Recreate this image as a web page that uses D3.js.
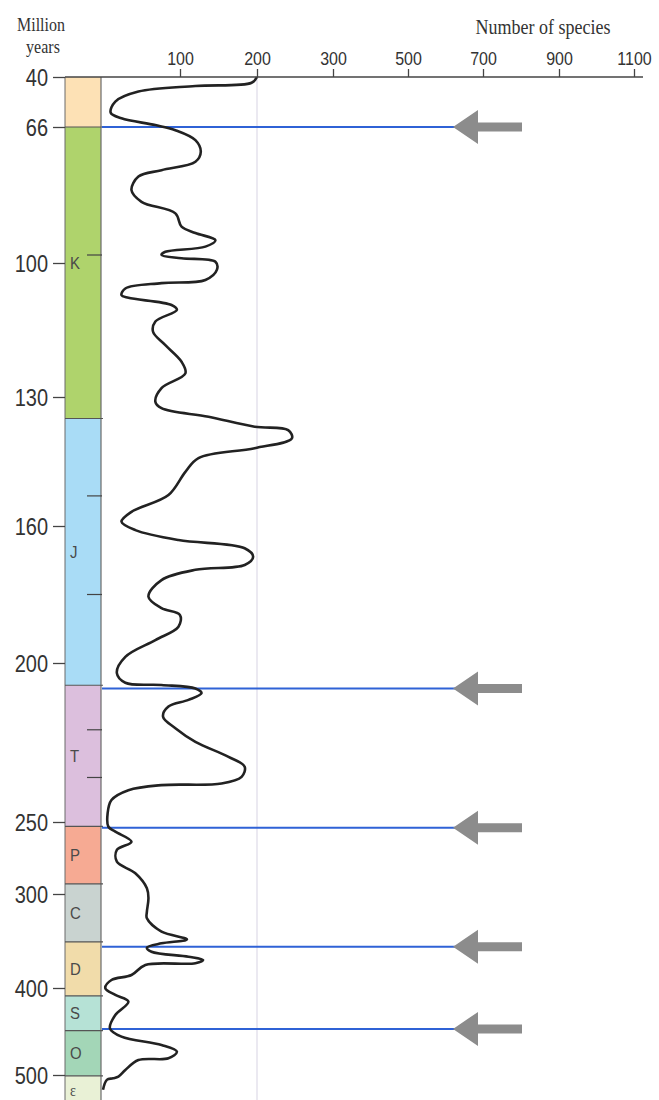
<!DOCTYPE html>
<html>
<head>
<meta charset="utf-8">
<script src="https://cdn.jsdelivr.net/npm/d3@7"></script>
<style>
  html, body { margin: 0; padding: 0; background: #fff; }
  svg { display: block; }
</style>
</head>
<body>
<svg id="chart" width="659" height="1100"></svg>
<script>
// ---- data ----
const ages = [40, 43, 44.7, 47.6, 52.8, 58.6, 61.5, 65, 66.8, 69.3, 72.2, 74.7, 76.8, 78.4, 81.8, 84.7, 87.6, 90.9, 92.5, 94.3, 95.9, 97.2, 98, 98.8, 99.7, 101.5, 103.8, 104.5, 105.7, 107.2, 107.8, 109.4, 110.5, 113.1, 115.4, 118.4, 122.1, 124.7, 128, 131.1, 132.6, 134.6, 136.9, 137.7, 139.6, 141.9, 144.2, 147.4, 152.8, 156.7, 159, 161.2, 164.1, 166.5, 169, 171.4, 172.8, 175.8, 180.6, 184, 186, 189.4, 193.3, 198.2, 203.2, 206.2, 206.9, 208, 209.5, 211.6, 213.7, 216.9, 220.5, 224.8, 229.5, 232.6, 235.8, 237.9, 238.4, 240, 243.1, 247.3, 253.3, 256.7, 263.7, 269.4, 277.6, 285.6, 296, 304.6, 318.8, 325.9, 340.1, 348.2, 352.5, 357.1, 361.4, 366.7, 370.2, 373.7, 375.5, 386.2, 391.5, 400.3, 408, 415.7, 431, 446.3, 455.9, 465.5, 473.2, 480.8, 482.8, 494.3, 501.9, 503.8, 505.6, 517];
const species = [200, 193, 120, 46, 16, 10, 24, 68, 94, 120, 127, 120, 76, 46, 37, 50, 94, 102, 120, 146, 133, 81, 76, 102, 146, 148, 133, 76, 29, 24, 33, 89, 96, 68, 65, 81, 102, 107, 76, 68, 76, 137, 197, 241, 246, 197, 124, 107, 85, 37, 24, 42, 98, 184, 195, 184, 120, 76, 59, 76, 100, 98, 68, 29, 18, 29, 76, 120, 128, 111, 85, 78, 94, 120, 163, 184, 180, 154, 76, 33, 11, 6, 7, 16, 37, 18, 18, 42, 57, 59, 57, 57, 76, 109, 76, 57, 63, 111, 130, 120, 55, 37, 11, 3, 16, 33, 16, 9, 24, 76, 96, 85, 46, 29, 20, 13, 5, 0];

const yTicks = [40, 66, 100, 130, 160, 200, 250, 300, 400, 500];
const xTicks = [100, 200, 300, 500, 700, 900, 1100];

const periodNames  = ["", "K", "J", "T", "P", "C", "D", "S", "O", "ε"];
const periodStarts = [40, 66, 135, 207, 253, 293, 351, 409, 449, 501];
const periodEnds   = [66, 135, 207, 253, 293, 351, 409, 449, 501, 540];
const periodColors = ["#fde1b5", "#afd36c", "#a9dcf6", "#dcbfdd", "#f6aa93", "#c9d3d0", "#f1dcaa", "#b6e2d6", "#a3d6b7", "#e9f1d6"];

const epochTicks = [98, 153, 180, 221, 236];
const extinctions = [66, 208, 254, 356, 447];

// ---- scales ----
const y = d3.scaleLinear()
  .domain([40, 66, 100, 130, 160, 200, 250, 300, 400, 500])
  .range([77, 127, 263, 397, 526, 663, 822, 894, 988, 1075]);
const x = d3.scaleLinear()
  .domain([0, 100, 200, 300, 500, 700, 900, 1100])
  .range([103, 180, 257, 333, 408, 483, 559, 634]);

const svg = d3.select("#chart");
const colL = 65, colR = 101, axisY = 77, bottom = 1100;
const stretch = "scale(1,1.15)";

// period bands
const bands = svg.append("g");
bands.selectAll("rect").data(periodNames).join("rect")
  .attr("x", colL).attr("width", colR - colL)
  .attr("y", (d, i) => y(periodStarts[i]))
  .attr("height", (d, i) => Math.min(y(periodEnds[i]), bottom) - y(periodStarts[i]))
  .attr("fill", (d, i) => periodColors[i]);

// grid line at 200
svg.append("line")
  .attr("x1", x(200)).attr("x2", x(200))
  .attr("y1", axisY).attr("y2", bottom)
  .attr("stroke", "#dedbe8").attr("stroke-width", 1.2);

// column edges
svg.append("line").attr("x1", colL).attr("x2", colL).attr("y1", axisY).attr("y2", bottom)
  .attr("stroke", "#6b6b6b").attr("stroke-width", 1);
svg.append("line").attr("x1", colR).attr("x2", colR).attr("y1", axisY).attr("y2", bottom)
  .attr("stroke", "#6b6b6b").attr("stroke-width", 1.2);

// period boundaries
svg.append("g").selectAll("line").data(periodStarts.slice(1)).join("line")
  .attr("x1", colL).attr("x2", colR + 2)
  .attr("y1", d => y(d)).attr("y2", d => y(d))
  .attr("stroke", "#555").attr("stroke-width", 1.2);

// epoch ticks
svg.append("g").selectAll("line").data(epochTicks).join("line")
  .attr("x1", colR - 14).attr("x2", colR + 1)
  .attr("y1", d => y(d)).attr("y2", d => y(d))
  .attr("stroke", "#444").attr("stroke-width", 1.2);

// period labels
svg.append("g").selectAll("text").data(periodNames).join("text")
  .attr("transform", (d, i) => {
    const yc = (y(periodStarts[i]) + Math.min(y(periodEnds[i]), bottom + 30)) / 2;
    const yy = i === 1 ? y(100) : (i === 9 ? 1090 : yc);
    return `translate(${colL + 5},${yy}) ${stretch}`;
  })
  .attr("dy", "0.36em")
  .attr("font-family", (d, i) => i === 9 ? "Liberation Serif, serif" : "Liberation Sans, Arial, sans-serif")
  .attr("font-size", (d, i) => i === 9 ? 14 : 15)
  .attr("fill", "#4a4a4a")
  .text(d => d);

// extinction lines
svg.append("g").selectAll("line").data(extinctions).join("line")
  .attr("x1", colR + 1).attr("x2", 455)
  .attr("y1", d => y(d)).attr("y2", d => y(d))
  .attr("stroke", "#2f62d6").attr("stroke-width", 2);

// arrows
svg.append("g").selectAll("path").data(extinctions).join("path")
  .attr("d", d => {
    const c = y(d);
    return `M453,${c} L478,${c - 17} L478,${c - 4.5} L522,${c - 4.5} L522,${c + 4.5} L478,${c + 4.5} L478,${c + 17} Z`;
  })
  .attr("fill", "#8c8c8c");

// species curve
const line = d3.line()
  .x((d, i) => x(species[i]))
  .y((d, i) => y(ages[i]))
  .curve(d3.curveCatmullRom.alpha(0.5));
svg.append("path")
  .datum(ages)
  .attr("d", line)
  .attr("fill", "none")
  .attr("stroke", "#222")
  .attr("stroke-width", 2.6)
  .attr("stroke-linejoin", "round");

// top axis
svg.append("line").attr("x1", colL).attr("x2", 643).attr("y1", axisY).attr("y2", axisY)
  .attr("stroke", "#444").attr("stroke-width", 1.3);
const xAxis = svg.append("g").attr("transform", `translate(0,${axisY})`)
  .call(d3.axisTop(x).tickValues(xTicks).tickFormat(d3.format("d")).tickSize(8).tickSizeOuter(0));
xAxis.select(".domain").remove();
xAxis.selectAll(".tick line").attr("stroke", "#444").attr("stroke-width", 1.3);
xAxis.selectAll(".tick text")
  .attr("y", -12 / 1.15).attr("dy", 0)
  .attr("transform", stretch)
  .attr("font-family", "Liberation Sans, Arial, sans-serif")
  .attr("font-size", 16).attr("fill", "#333");

// left axis
const yAxis = svg.append("g").attr("transform", `translate(${colL},0)`)
  .call(d3.axisLeft(y).tickValues(yTicks).tickSize(12).tickPadding(5).tickSizeOuter(0));
yAxis.select(".domain").remove();
yAxis.selectAll(".tick line").attr("stroke", "#444").attr("stroke-width", 1.3);
yAxis.selectAll(".tick text")
  .attr("transform", stretch)
  .attr("dy", "0.35em")
  .attr("font-family", "Liberation Sans, Arial, sans-serif")
  .attr("font-size", 20).attr("fill", "#333");

// titles
svg.append("text").attr("transform", `translate(41,31) ${stretch}`)
  .attr("text-anchor", "middle")
  .attr("font-family", "Liberation Serif, Times New Roman, serif")
  .attr("font-size", 16).attr("fill", "#333").text("Million");
svg.append("text").attr("transform", `translate(43,53) ${stretch}`)
  .attr("text-anchor", "middle")
  .attr("font-family", "Liberation Serif, Times New Roman, serif")
  .attr("font-size", 16).attr("fill", "#333").text("years");
svg.append("text").attr("transform", `translate(543,34) ${stretch}`)
  .attr("text-anchor", "middle")
  .attr("font-family", "Liberation Serif, Times New Roman, serif")
  .attr("font-size", 18).attr("fill", "#333").text("Number of species");
</script>
</body>
</html>
